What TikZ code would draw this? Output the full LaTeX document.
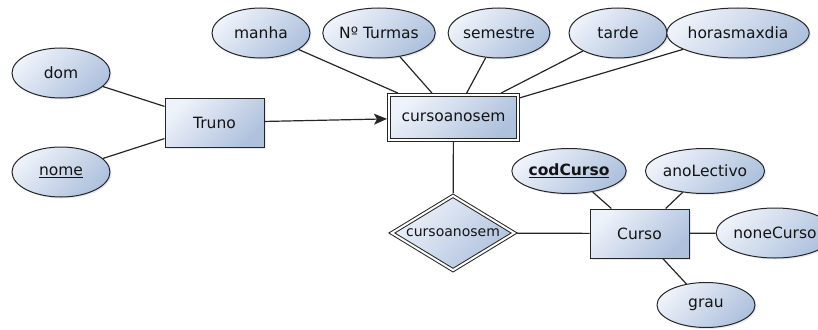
\documentclass[tikz,border=0pt]{standalone}
\usepackage{fontspec}
\setmainfont{DejaVu Sans}
\usetikzlibrary{shapes.geometric,shadows,arrows.meta}

\definecolor{erlight}{HTML}{EEF2FA}
\definecolor{erdark}{HTML}{AEC1DD}
\definecolor{erline}{HTML}{262626}
\definecolor{ertext}{HTML}{141414}

\tikzset{
  erfill/.style={top color=erlight, bottom color=erdark, shading angle=45,
    draw=erline, line width=1pt, text=ertext,
    drop shadow={shadow xshift=1.5pt, shadow yshift=-1.5pt, opacity=0.18}},
  attr/.style={erfill, ellipse, minimum width=98pt, minimum height=50pt,
    inner sep=0pt, font=\fontsize{15.5}{18}\selectfont},
  attrsm/.style={attr, minimum height=45pt},
  entity/.style={erfill, rectangle, minimum width=99pt, minimum height=49pt,
    inner sep=0pt, font=\fontsize{15.5}{18}\selectfont},
  weakentity/.style={erfill, rectangle, double=white, double distance=2pt,
    minimum width=129pt, minimum height=45pt, inner sep=0pt, outer sep=2pt,
    font=\fontsize{15.5}{18}\selectfont},
  weakrel/.style={erfill, diamond, double=white, double distance=2pt,
    aspect=1.6, minimum width=124pt, minimum height=76pt, inner sep=0pt,
    outer sep=2pt, font=\fontsize{14}{16}\selectfont},
  edge/.style={draw=erline, line width=1.2pt},
}

\begin{document}
\begin{tikzpicture}[x=1pt, y=-1pt]
  \useasboundingbox (0,0) rectangle (818,329);

  % entities
  \node[entity] (truno) at (214.5,122.5) {Truno};
  \node[weakentity] (cas) at (453.5,117.5) {cursoanosem};
  \node[entity] (curso) at (639.5,233.5) {Curso};
  \node[weakrel] (rel) at (453,233) {cursoanosem};

  % attributes of Truno
  \node[attr] (dom) at (61,73) {dom};
  \node[attr] (nome) at (61,172) {\underline{nome}};

  % attributes of cursoanosem
  \node[attr] (manha) at (261,33) {manha};
  \node[attr] (turmas) at (379,33) {Nº Turmas};
  \node[attr] (semestre) at (499,33) {semestre};
  \node[attr] (tarde) at (618,33) {tarde};
  \node[attr] (horas) at (738,33) {horasmaxdia};

  % attributes of Curso
  \node[attrsm] (cod) at (569,171) {\textbf{\underline{codCurso}}};
  \node[attrsm] (ano) at (705,171) {anoLectivo};
  \node[attr] (none) at (775,233) {noneCurso};
  \node[attrsm] (grau) at (706,305) {grau};

  % connectors
  \draw[edge] (dom) -- (truno);
  \draw[edge] (nome) -- (truno);
  \draw[edge, -{Stealth[length=13pt, width=11pt, inset=3pt]}] (truno) -- (cas);
  \draw[edge] (manha) -- (cas);
  \draw[edge] (turmas) -- (cas);
  \draw[edge] (semestre) -- (cas);
  \draw[edge] (tarde) -- (cas);
  \draw[edge] (horas) -- (cas);
  \draw[edge] (cas) -- (rel);
  \draw[edge] (rel) -- (curso);
  \draw[edge] (cod) -- (curso);
  \draw[edge] (ano) -- (curso);
  \draw[edge] (curso) -- (none);
  \draw[edge] (curso) -- (grau);
\end{tikzpicture}
\end{document}
